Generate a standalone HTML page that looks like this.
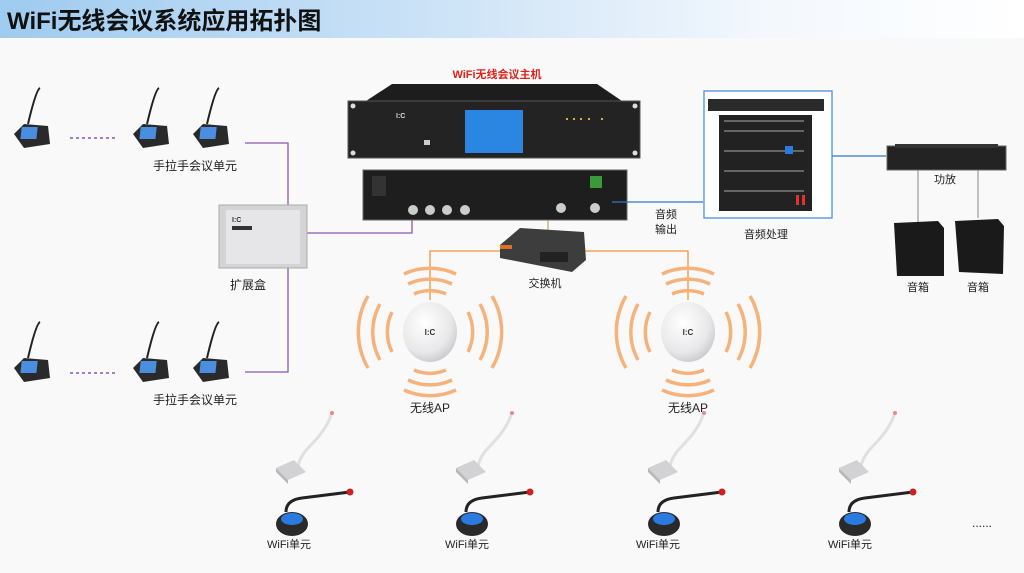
<!DOCTYPE html>
<html><head><meta charset="utf-8"><style>
html,body{margin:0;padding:0;background:#f9f9f9;}
svg{display:block;font-family:"Liberation Sans","Noto Sans CJK SC",sans-serif;}
</style></head><body>
<svg width="1024" height="573" viewBox="0 0 1024 573" xmlns="http://www.w3.org/2000/svg">
<defs>
<linearGradient id="hd" x1="0" x2="1" y1="0" y2="0">
<stop offset="0" stop-color="#9ecbf0"/><stop offset="0.45" stop-color="#cfe4f7"/><stop offset="0.75" stop-color="#f3f8fd"/><stop offset="1" stop-color="#ffffff"/></linearGradient>
<radialGradient id="ap" cx="0.4" cy="0.35" r="0.7"><stop offset="0" stop-color="#ffffff"/><stop offset="0.7" stop-color="#e8e8ea"/><stop offset="1" stop-color="#c8c8cc"/></radialGradient>
<g id="hh">
<path d="M26 2 Q22 4 14 38" stroke="#222" stroke-width="2" fill="none"/>
<path d="M0 48 L10 38 L34 40 L36 58 L10 62 Z" fill="#2a2a2a"/>
<rect x="12" y="41" width="16" height="12" fill="#4a8ee0" transform="skewX(-6)"/>
</g>
<g id="wu">
<path d="M62 4 Q58 20 40 38 Q30 48 28 58" stroke="#e0e0e0" stroke-width="3" fill="none"/>
<circle cx="62" cy="5" r="2" fill="#e88"/>
<path d="M6 60 L24 52 L36 64 L18 72 Z" fill="#d2d2d4"/>
<path d="M6 60 L18 72 L18 76 L6 64 Z" fill="#b8b8ba"/>
<path d="M16 104 Q16 92 32 90 L80 84" stroke="#222" stroke-width="3" fill="none"/>
<circle cx="80" cy="84" r="3.5" fill="#c22"/>
<ellipse cx="22" cy="116" rx="16" ry="12" fill="#2a2a2a"/>
<ellipse cx="22" cy="111" rx="11" ry="6" fill="#2a7ae0"/>
</g>
<g id="apg">
<g fill="none" stroke="#f6b27a" stroke-width="3.5">
<path d="M-38 -20 A45 45 0 0 0 -38 20"/><path d="M-50 -28 A58 58 0 0 0 -50 28"/><path d="M-62 -36 A72 72 0 0 0 -62 36"/>
<path d="M38 -20 A45 45 0 0 1 38 20"/><path d="M50 -28 A58 58 0 0 1 50 28"/><path d="M62 -36 A72 72 0 0 1 62 36"/>
<path d="M-16 -38 A40 40 0 0 1 16 -38"/><path d="M-22 -48 A52 52 0 0 1 22 -48"/><path d="M-26 -58 A62 62 0 0 1 26 -58"/>
<path d="M-16 38 A40 40 0 0 0 16 38"/><path d="M-22 48 A52 52 0 0 0 22 48"/><path d="M-26 58 A62 62 0 0 0 26 58"/>
</g>
<ellipse cx="0" cy="0" rx="27" ry="30" fill="url(#ap)"/>
<text x="0" y="3" font-size="8" font-weight="bold" text-anchor="middle" fill="#333">I:C</text>
</g>
</defs>
<rect width="1024" height="573" fill="#f9f9f9"/>
<rect width="1024" height="38" fill="url(#hd)"/>
<text x="7" y="29" font-size="24" font-weight="bold" fill="#111">WiFi无线会议系统应用拓扑图</text>

<use href="#hh" x="14" y="86"/><use href="#hh" x="133" y="86"/><use href="#hh" x="193" y="86"/>
<line x1="70" y1="138" x2="115" y2="138" stroke="#8a56b8" stroke-width="1.5" stroke-dasharray="3,3"/>
<text x="195" y="170" font-size="12" text-anchor="middle" fill="#222">手拉手会议单元</text>
<use href="#hh" x="14" y="320"/><use href="#hh" x="133" y="320"/><use href="#hh" x="193" y="320"/>
<line x1="70" y1="373" x2="115" y2="373" stroke="#8a56b8" stroke-width="1.5" stroke-dasharray="3,3"/>
<text x="195" y="404" font-size="12" text-anchor="middle" fill="#222">手拉手会议单元</text>
<polyline points="245,143 288,143 288,372 245,372" fill="none" stroke="#8a56b8" stroke-width="1.3"/>
<polyline points="307,233 412,233 412,208" fill="none" stroke="#8a56b8" stroke-width="1.3"/>
<rect x="219" y="205" width="88" height="63" fill="#d4d4d6" stroke="#aaa"/>
<rect x="226" y="210" width="74" height="54" fill="#e6e6e8"/>
<text x="232" y="222" font-size="7" font-weight="bold" fill="#333">I:C</text>
<rect x="232" y="226" width="20" height="4" fill="#333"/>
<text x="248" y="289" font-size="12" text-anchor="middle" fill="#222">扩展盒</text>

<text x="497" y="78" font-size="11" font-weight="bold" text-anchor="middle" fill="#e0201a">WiFi无线会议主机</text>
<path d="M366 101 L392 84 L597 84 L622 101 Z" fill="#1d1d1d"/>
<rect x="348" y="101" width="292" height="57" fill="#232323" stroke="#555"/>
<rect x="465" y="110" width="58" height="43" fill="#2a86e0"/>
<circle cx="353" cy="106" r="2.5" fill="#ddd"/><circle cx="353" cy="153" r="2.5" fill="#ddd"/><circle cx="635" cy="106" r="2.5" fill="#ddd"/><circle cx="635" cy="153" r="2.5" fill="#ddd"/>
<text x="396" y="118" font-size="7" font-weight="bold" fill="#ddd">I:C</text>
<rect x="424" y="140" width="6" height="5" fill="#ccc"/>
<g fill="#e0b020"><rect x="566" y="118" width="2" height="2"/><rect x="573" y="118" width="2" height="2"/><rect x="580" y="118" width="2" height="2"/><rect x="588" y="118" width="2" height="2"/><rect x="601" y="118" width="2" height="2"/></g>
<rect x="363" y="170" width="264" height="50" fill="#1e1e1e" stroke="#666"/>
<rect x="372" y="176" width="14" height="20" fill="#333"/>
<g fill="#ccc"><circle cx="413" cy="210" r="5"/><circle cx="430" cy="210" r="5"/><circle cx="447" cy="210" r="5"/><circle cx="465" cy="210" r="5"/><circle cx="561" cy="208" r="5"/><circle cx="595" cy="208" r="5"/></g>
<rect x="590" y="176" width="12" height="12" fill="#3a9a3a"/>
<line x1="612" y1="202" x2="703" y2="202" stroke="#2a7ac8" stroke-width="1.3"/>
<text x="655" y="218" font-size="11" fill="#222">音频</text>
<text x="655" y="233" font-size="11" fill="#222">输出</text>
<line x1="548" y1="220" x2="548" y2="243" stroke="#c0904a" stroke-width="1"/>

<rect x="704" y="91" width="128" height="127" fill="#fff" stroke="#4a90d8" stroke-width="1.3"/>
<rect x="708" y="99" width="116" height="12" fill="#2a2a2a"/>
<rect x="719" y="115" width="93" height="96" fill="#222"/>
<g fill="#666"><rect x="724" y="120" width="80" height="2"/><rect x="724" y="130" width="80" height="2"/><rect x="724" y="150" width="80" height="2"/><rect x="724" y="170" width="80" height="2"/><rect x="724" y="190" width="80" height="2"/></g>
<rect x="785" y="146" width="8" height="8" fill="#2a7ae0"/>
<rect x="796" y="195" width="3" height="10" fill="#d33"/><rect x="802" y="195" width="3" height="10" fill="#d33"/>
<text x="766" y="238" font-size="11" text-anchor="middle" fill="#222">音频处理</text>
<line x1="832" y1="156" x2="886" y2="156" stroke="#2a7ac8" stroke-width="1.3"/>

<rect x="887" y="146" width="119" height="24" fill="#232323" stroke="#666"/>
<rect x="895" y="144" width="103" height="4" fill="#333"/>
<text x="945" y="183" font-size="11" text-anchor="middle" fill="#222">功放</text>
<line x1="918" y1="170" x2="918" y2="222" stroke="#888" stroke-width="1"/>
<line x1="978" y1="170" x2="978" y2="218" stroke="#888" stroke-width="1"/>
<path d="M894 223 L938 221 L944 228 L944 276 L897 276 Z" fill="#1a1a1a"/>
<path d="M955 221 L998 219 L1004 226 L1003 274 L959 272 Z" fill="#1a1a1a"/>
<text x="918" y="291" font-size="11" text-anchor="middle" fill="#222">音箱</text>
<text x="978" y="291" font-size="11" text-anchor="middle" fill="#222">音箱</text>

<polyline points="430,300 430,251 688,251 688,300" fill="none" stroke="#f0953a" stroke-width="1.3"/>
<path d="M500 245 L520 228 L584 232 L586 260 L572 272 L500 258 Z" fill="#3d3d3d"/>
<rect x="540" y="252" width="28" height="10" fill="#222"/>
<rect x="500" y="245" width="12" height="4" fill="#e07020"/>
<text x="545" y="287" font-size="11" text-anchor="middle" fill="#222">交换机</text>

<use href="#apg" x="430" y="332"/><use href="#apg" x="688" y="332"/>
<text x="430" y="412" font-size="12" text-anchor="middle" fill="#222">无线AP</text>
<text x="688" y="412" font-size="12" text-anchor="middle" fill="#222">无线AP</text>

<use href="#wu" x="270" y="408"/><use href="#wu" x="450" y="408"/><use href="#wu" x="642" y="408"/><use href="#wu" x="833" y="408"/>
<text x="289" y="548" font-size="11" text-anchor="middle" fill="#222">WiFi单元</text>
<text x="467" y="548" font-size="11" text-anchor="middle" fill="#222">WiFi单元</text>
<text x="658" y="548" font-size="11" text-anchor="middle" fill="#222">WiFi单元</text>
<text x="850" y="548" font-size="11" text-anchor="middle" fill="#222">WiFi单元</text>
<text x="982" y="527" font-size="12" text-anchor="middle" fill="#222">......</text>
</svg>
</body></html>
